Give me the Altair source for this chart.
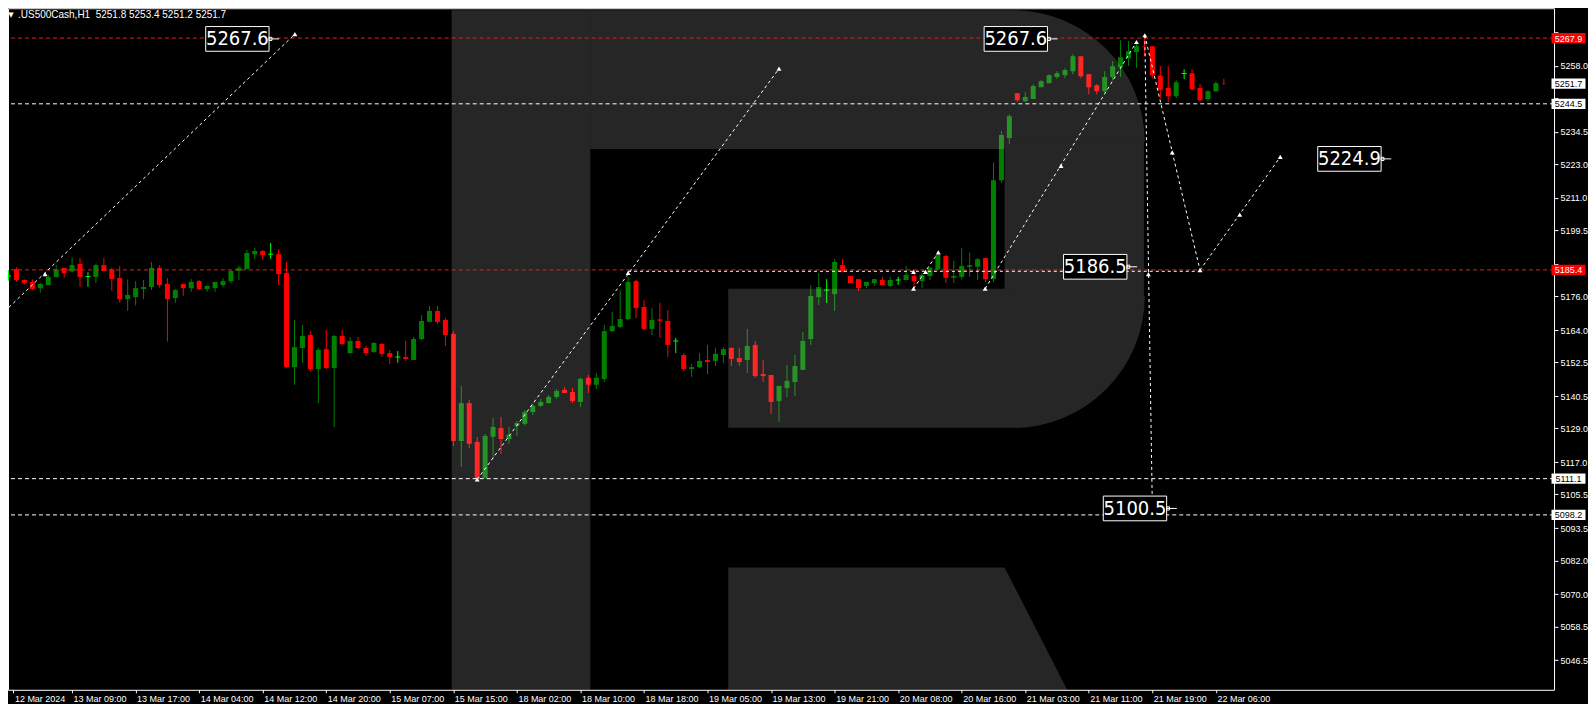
import math
import altair as alt
import pandas as pd

# ---------------- candle data (H1 bars, index 0 = 12 Mar 2024) ----------------
opens = [5183.2, 5185.6, 5181.8, 5181.1, 5178.9, 5180.0, 5182.9, 5186.1, 5184.8, 5187.5,
         5183.0, 5182.9, 5187.1, 5185.5, 5182.5, 5175.0, 5175.7, 5178.6, 5179.3, 5186.1,
         5180.4, 5175.4, 5180.4, 5178.9, 5181.4, 5178.6, 5178.9, 5180.0, 5181.4, 5185.0,
         5185.7, 5191.0, 5192.1, 5191.0, 5191.0, 5184.3, 5150.8, 5157.6, 5162.2, 5150.1,
         5157.2, 5150.5, 5161.9, 5155.8, 5160.1, 5157.6, 5156.2, 5159.0, 5155.8, 5154.4,
         5154.4, 5153.3, 5160.8, 5166.9, 5170.8, 5167.6, 5162.6, 5124.5, 5138.0, 5124.2,
         5111.3, 5126.0, 5129.1, 5125.2, 5129.9, 5130.6, 5134.8, 5137.0, 5138.0, 5140.2,
         5142.7, 5141.9, 5138.4, 5147.0, 5144.5, 5146.6, 5163.6, 5165.1, 5167.9, 5181.4,
         5172.2, 5164.4, 5167.8, 5167.2, 5160.1, 5155.1, 5150.1, 5150.8, 5153.3, 5153.0,
         5155.1, 5157.6, 5154.0, 5153.3, 5158.7, 5148.3, 5148.0, 5138.7, 5143.4, 5145.5,
         5149.8, 5160.8, 5175.7, 5178.2, 5176.8, 5187.1, 5183.2, 5182.1, 5179.7, 5180.7,
         5181.8, 5179.7, 5181.8, 5181.8, 5183.2, 5181.4, 5183.2, 5185.6, 5190.3, 5182.6,
         5182.9, 5186.5, 5186.5, 5189.6, 5182.1, 5217.3, 5232.3, 5248.3, 5245.4, 5246.2,
         5250.4, 5251.8, 5254.0, 5254.7, 5256.1, 5261.4, 5255.0, 5251.1, 5249.0, 5254.0,
         5257.5, 5260.7, 5262.9, 5265.2, 5265.0, 5254.6, 5250.1, 5247.2, 5255.3, 5255.4,
         5250.1, 5246.2, 5249.0, 5251.8]
highs = [5185.3, 5186.3, 5182.0, 5182.0, 5180.8, 5183.6, 5187.1, 5186.1, 5189.8, 5189.6,
         5184.6, 5187.5, 5189.6, 5186.1, 5186.8, 5182.0, 5181.4, 5181.8, 5188.2, 5187.1,
         5182.5, 5178.6, 5180.4, 5182.1, 5181.8, 5179.7, 5181.1, 5182.5, 5185.3, 5186.8,
         5192.5, 5193.2, 5192.5, 5195.0, 5192.8, 5188.2, 5167.6, 5165.8, 5163.6, 5157.6,
         5164.0, 5162.2, 5164.0, 5161.5, 5161.5, 5158.3, 5159.7, 5159.4, 5156.9, 5156.5,
         5160.1, 5161.5, 5169.3, 5172.6, 5172.6, 5168.3, 5163.6, 5144.1, 5139.1, 5126.0,
         5127.0, 5132.7, 5133.1, 5129.5, 5131.6, 5135.5, 5137.7, 5139.5, 5140.9, 5143.0,
         5143.7, 5143.4, 5147.0, 5148.0, 5148.7, 5165.8, 5170.4, 5178.2, 5182.9, 5181.8,
         5174.7, 5171.8, 5173.6, 5171.1, 5161.2, 5155.8, 5151.9, 5155.8, 5158.7, 5157.6,
         5157.9, 5157.9, 5157.6, 5164.4, 5160.1, 5153.3, 5148.0, 5144.1, 5151.6, 5155.1,
         5163.3, 5180.0, 5184.3, 5182.1, 5189.3, 5189.3, 5183.2, 5182.1, 5181.1, 5182.1,
         5182.9, 5182.9, 5182.9, 5186.8, 5185.3, 5184.3, 5186.4, 5191.9, 5190.7, 5188.6,
         5193.1, 5191.6, 5189.6, 5189.6, 5223.6, 5234.8, 5240.8, 5248.3, 5248.6, 5251.5,
         5252.9, 5255.0, 5256.1, 5257.2, 5262.2, 5261.4, 5255.0, 5251.5, 5256.1, 5259.7,
         5267.1, 5266.8, 5266.8, 5267.9, 5265.0, 5257.9, 5257.9, 5252.9, 5256.8, 5256.8,
         5251.5, 5249.4, 5252.5, 5253.4]
lows = [5181.5, 5181.2, 5180.2, 5178.2, 5177.3, 5180.0, 5182.6, 5182.6, 5184.5, 5179.4,
        5179.4, 5180.8, 5185.0, 5178.0, 5173.7, 5170.8, 5172.7, 5175.0, 5178.2, 5179.1,
        5159.9, 5173.6, 5176.2, 5177.6, 5178.2, 5177.6, 5177.6, 5179.4, 5180.7, 5181.8,
        5185.7, 5189.3, 5188.9, 5189.3, 5180.0, 5150.5, 5144.5, 5152.3, 5149.4, 5138.0,
        5150.1, 5129.5, 5158.7, 5155.5, 5157.2, 5154.8, 5155.8, 5154.4, 5151.9, 5152.3,
        5153.0, 5153.3, 5160.4, 5166.9, 5166.1, 5158.3, 5122.7, 5115.3, 5122.0, 5111.1,
        5111.2, 5118.1, 5119.9, 5123.5, 5126.3, 5129.9, 5133.8, 5136.6, 5137.7, 5139.5,
        5141.6, 5138.0, 5136.6, 5141.6, 5143.0, 5145.5, 5163.3, 5164.7, 5167.6, 5168.3,
        5164.0, 5162.2, 5161.2, 5154.4, 5155.8, 5149.4, 5147.3, 5150.5, 5148.3, 5151.2,
        5152.3, 5151.2, 5151.2, 5148.7, 5147.0, 5145.5, 5134.1, 5131.3, 5140.2, 5140.5,
        5149.8, 5158.7, 5172.9, 5173.6, 5170.8, 5184.6, 5180.7, 5177.9, 5178.9, 5179.7,
        5180.0, 5179.3, 5180.0, 5181.8, 5179.3, 5178.9, 5181.8, 5185.3, 5180.8, 5180.8,
        5182.0, 5182.9, 5181.8, 5181.0, 5181.0, 5216.4, 5230.2, 5245.1, 5245.1, 5246.2,
        5250.4, 5251.8, 5253.3, 5253.6, 5255.0, 5253.6, 5247.9, 5247.9, 5248.3, 5252.9,
        5254.0, 5257.9, 5257.2, 5261.4, 5253.6, 5246.3, 5245.1, 5246.5, 5253.3, 5249.2,
        5245.1, 5245.4, 5248.6, 5251.2]
closes = [5183.2, 5181.8, 5180.8, 5178.6, 5180.4, 5182.9, 5185.6, 5184.3, 5187.1, 5182.9,
          5183.0, 5187.1, 5185.0, 5182.1, 5175.0, 5176.5, 5178.9, 5179.3, 5186.1, 5180.0,
          5175.0, 5178.2, 5178.9, 5181.1, 5178.6, 5179.7, 5181.1, 5181.4, 5185.0, 5186.1,
          5191.4, 5192.1, 5190.7, 5191.0, 5183.9, 5150.8, 5157.9, 5161.9, 5150.1, 5156.9,
          5150.5, 5161.9, 5159.0, 5160.1, 5157.6, 5155.8, 5159.4, 5155.5, 5154.4, 5154.4,
          5153.7, 5160.8, 5167.2, 5170.8, 5166.9, 5162.2, 5124.5, 5138.0, 5123.5, 5111.3,
          5126.3, 5129.5, 5125.2, 5126.7, 5130.9, 5134.8, 5137.0, 5138.4, 5140.2, 5142.3,
          5141.6, 5138.7, 5146.6, 5144.5, 5147.0, 5163.6, 5165.4, 5167.9, 5181.1, 5171.8,
          5164.4, 5167.6, 5167.3, 5158.7, 5160.1, 5150.1, 5150.8, 5153.0, 5152.6, 5155.5,
          5157.2, 5153.7, 5152.6, 5158.3, 5147.6, 5147.6, 5138.4, 5144.1, 5145.9, 5151.2,
          5160.1, 5176.1, 5179.3, 5178.2, 5188.2, 5184.6, 5180.7, 5178.9, 5181.1, 5182.1,
          5180.0, 5181.8, 5181.8, 5183.6, 5181.4, 5183.6, 5186.1, 5190.7, 5182.6, 5183.2,
          5186.8, 5187.1, 5189.2, 5182.1, 5217.3, 5233.4, 5240.1, 5245.8, 5246.9, 5250.8,
          5252.5, 5254.7, 5255.4, 5256.5, 5261.4, 5254.3, 5250.4, 5249.0, 5254.0, 5257.9,
          5261.1, 5263.2, 5265.0, 5265.0, 5254.6, 5249.4, 5247.2, 5252.2, 5255.3, 5249.7,
          5245.8, 5249.0, 5251.8, 5251.7]

time_labels = ["12 Mar 2024", "13 Mar 09:00", "13 Mar 17:00", "14 Mar 04:00", "14 Mar 12:00",
               "14 Mar 20:00", "15 Mar 07:00", "15 Mar 15:00", "18 Mar 02:00", "18 Mar 10:00",
               "18 Mar 18:00", "19 Mar 05:00", "19 Mar 13:00", "19 Mar 21:00", "20 Mar 08:00",
               "20 Mar 16:00", "21 Mar 03:00", "21 Mar 11:00", "21 Mar 19:00", "22 Mar 06:00"]
bars_per_label = 8

price_ticks = [5046.5, 5058.5, 5070.0, 5082.0, 5093.5, 5105.5, 5117.0, 5129.0, 5140.5,
               5152.5, 5164.0, 5176.0, 5187.5, 5199.5, 5211.0, 5223.0, 5234.5, 5246.5,
               5258.0, 5270.0]
# scale labels covered by the price tags
covered_ticks = [5187.5, 5246.5, 5270.0]

title_text = ".US500Cash,H1\u00a0 5251.8 5253.4 5251.2 5251.7"

# horizontal levels
level_prices = [5267.9, 5244.5, 5185.4, 5111.1, 5098.2]
level_kinds = ["red", "white", "red", "white", "white"]

# price tags on the right scale
tag_prices = [5267.9, 5251.7, 5244.5, 5185.4, 5111.1, 5098.2]
tag_kinds = ["red", "white", "white", "red", "white", "white"]

# forecast segments (bar, price) -> (bar, price)
seg_b1 = [-0.5, 59.0, 78.0, 113.93, 122.95, 143.05, 150.0, 143.05]
seg_p1 = [5170.6, 5110.8, 5184.9, 5178.7, 5178.7, 5268.9, 5185.3, 5268.9]
seg_b2 = [36.05, 97.0, 150.0, 117.05, 142.0, 150.0, 160.1, 144.0]
seg_p2 = [5269.3, 5257.0, 5184.9, 5191.6, 5266.5, 5185.3, 5225.6, 5100.5]

# small arrow markers on the forecast
marker_b = [4.6, 36.05, 59.0, 78.0, 97.0, 113.93, 113.93, 115.45, 117.05, 122.95,
            132.5, 142.0, 143.05, 143.5, 146.5, 150.0, 155.0, 160.1, 144.0]
marker_p = [5183.9, 5269.3, 5110.8, 5184.3, 5257.0, 5184.7, 5178.7, 5184.7, 5191.6, 5178.7,
            5222.4, 5266.5, 5268.9, 5183.9, 5227.2, 5185.3, 5205.1, 5225.6, 5100.5]

# target labels
target_b = [28.81, 126.81, 136.81, 168.81, 141.81]
target_p = [5267.6, 5267.6, 5186.5, 5224.9, 5100.5]

# ---------------- scales / axes ----------------
x_dom = [0.5625, 193.9375]
y_dom = [5035.96, 5278.52]
xs = alt.Scale(domain=x_dom, nice=False, zero=False)
ys = alt.Scale(domain=y_dom, nice=False, zero=False)
W, H = 1547, 682
FONT = "Liberation Sans"
BIGFONT = "DejaVu Sans Condensed, Liberation Sans Narrow, sans-serif"

tick_vals = [max(k * bars_per_label, x_dom[0] + 0.05) for k in range(len(time_labels))]
lab_arr = "[" + ",".join("'" + t + "'" for t in time_labels) + "]"
cov_arr = "[" + ",".join(str(v) for v in covered_ticks) + "]"

x_axis = alt.Axis(values=tick_vals, labelExpr=f"{lab_arr}[round(datum.value / {bars_per_label})]",
                  orient="bottom", domain=False, grid=False, tickSize=3, tickColor="white",
                  labelColor="white", labelFont=FONT, labelFontSize=9, labelAlign="left",
                  labelBaseline="top", labelPadding=2, labelFlush=False, labelOverlap=False,
                  labelBound=False, labelOffset=1, title=None)
y_axis = alt.Axis(values=price_ticks,
                  labelExpr=f"indexof({cov_arr}, datum.value) >= 0 ? '' : format(datum.value, '.1f')",
                  orient="right", domain=False, grid=False,
                  tickSize=4, tickColor="white", labelColor="white", labelFont=FONT,
                  labelFontSize=9, labelPadding=2, labelFlush=False, labelOverlap=False,
                  labelBound=False, title=None)


def X(field):
    return alt.X(field, scale=xs, axis=x_axis)


def Y(field):
    return alt.Y(field, scale=ys, axis=y_axis)


n = len(opens)
cdf = pd.DataFrame({"bar": list(range(n)), "open": opens, "high": highs,
                    "low": lows, "close": closes})
cdf["dir"] = ["up" if c > o else ("down" if c < o else "doji") for o, c in zip(opens, closes)]
dcol = alt.Color("dir:N", scale=alt.Scale(domain=["up", "down", "doji"],
                                          range=["#008000", "#ff0000", "#00ff00"]), legend=None)

wick = alt.Chart(cdf).mark_rule(strokeWidth=1, clip=True).encode(
    x=X("bar:Q"), y=Y("low:Q"), y2="high:Q", color=dcol)
body = alt.Chart(cdf).transform_filter("datum.dir != 'doji'").mark_bar(size=5, clip=True).encode(
    x=X("bar:Q"), y=Y("open:Q"), y2="close:Q", color=dcol)
doji = alt.Chart(cdf).transform_filter("datum.dir == 'doji'").mark_tick(
    orient="horizontal", size=5, thickness=1, clip=True, opacity=1).encode(
    x=X("bar:Q"), y=Y("open:Q"), color=dcol)

# ---------------- watermark (translucent logo) ----------------
wm_rects = pd.DataFrame({
    "b1": [55.79, 73.25, 125.4, 90.6, 126.44],
    "b2": [73.25, 126.44, 126.44, 126.44, 142.94],
    "p1": [5030.0, 5228.41, 5178.72, 5129.18, 5176.09],
    "p2": [5277.81, 5277.81, 5228.41, 5178.72, 5230.86],
})
WM = dict(color="white", opacity=0.15)
wm1 = alt.Chart(wm_rects).mark_rect(clip=True, **WM).encode(
    x=X("b1:Q"), x2="b2:Q", y=Y("p1:Q"), y2="p2:Q")
wm_arc_top = alt.Chart(pd.DataFrame({"b": [126.44], "p": [5230.86]})).mark_arc(
    radius=132, theta=0, theta2=math.pi / 2, **WM).encode(x=X("b:Q"), y=Y("p:Q"))
wm_arc_bot = alt.Chart(pd.DataFrame({"b": [126.44], "p": [5176.09]})).mark_arc(
    radius=132, theta=math.pi / 2, theta2=math.pi, **WM).encode(x=X("b:Q"), y=Y("p:Q"))
wm_leg = alt.Chart(pd.DataFrame({"b": [90.6, 125.4, 133.54], "p": [5079.5, 5079.5, 5034.5],
                                 "base": [5030.0, 5030.0, 5030.0]})).mark_area(clip=True, **WM).encode(
    x=X("b:Q"), y=Y("p:Q"), y2="base:Q")

# ---------------- levels ----------------
lvl = pd.DataFrame({"p": level_prices, "k": level_kinds})
kcol = alt.Color("k:N", scale=alt.Scale(domain=["red", "white"], range=["#dd2020", "#ffffff"]),
                 legend=None)
levels = alt.Chart(lvl).mark_rule(strokeWidth=1, strokeDash=[4, 3], clip=True).encode(
    y=Y("p:Q"), color=kcol)

# ---------------- forecast lines ----------------
seg = pd.DataFrame({"b1": seg_b1, "p1": seg_p1, "b2": seg_b2, "p2": seg_p2})
segs = alt.Chart(seg).mark_rule(color="white", strokeWidth=1, strokeDash=[3, 3], clip=True).encode(
    x=X("b1:Q"), x2="b2:Q", y=Y("p1:Q"), y2="p2:Q")
mk = pd.DataFrame({"b": marker_b, "p": marker_p})
markers = alt.Chart(mk).mark_point(shape="triangle-up", size=24, filled=True, color="white",
                                   opacity=1, clip=True).encode(x=X("b:Q"), y=Y("p:Q"))

# ---------------- target boxes ----------------
tg = pd.DataFrame({"b": target_b, "p": target_p})
tg["txt"] = [f"{v:.1f}" for v in target_p]
box_path = "M-1,-0.39H1V0.39H-1Z M1,0H1.32 M1,-0.05H1.09V0.05H1Z"
tboxes = alt.Chart(tg).mark_point(shape=box_path, size=4020, fill="black", stroke="white",
                                  strokeWidth=1, opacity=1, fillOpacity=1, filled=False).encode(
    x=X("b:Q"), y=Y("p:Q"))
ttext = alt.Chart(tg).mark_text(font=BIGFONT, fontSize=20, color="white", align="center",
                                baseline="middle", dy=0.5).encode(
    x=X("b:Q"), y=Y("p:Q"), text="txt:N")

# ---------------- price tags on the scale ----------------
tag_b = x_dom[1] + 2.45
tdf = pd.DataFrame({"p": tag_prices, "k": tag_kinds})
tdf["b"] = tag_b
tdf["txt"] = [f"{v:.1f}" for v in tag_prices]
tag_boxes = alt.Chart(tdf).mark_point(shape="M-1,-0.3H1V0.3H-1Z", size=1156, filled=True,
                                      opacity=1, strokeWidth=0, clip=False).encode(
    x=X("b:Q"), y=Y("p:Q"),
    color=alt.Color("k:N", scale=alt.Scale(domain=["red", "white"], range=["#ff0000", "#ffffff"]),
                    legend=None))
tag_text = alt.Chart(tdf).mark_text(font=FONT, fontSize=9, align="center", baseline="middle",
                                    dy=0.5, clip=False).encode(
    x=X("b:Q"), y=Y("p:Q"), text="txt:N",
    color=alt.Color("k:N", scale=alt.Scale(domain=["red", "white"], range=["#ffffff", "#000000"]),
                    legend=None))

# ---------------- header ----------------
head = alt.Chart(pd.DataFrame({"t": [title_text]})).mark_text(
    font=FONT, fontSize=10, color="white", align="left", baseline="top").encode(
    x=alt.value(10), y=alt.value(1.5), text="t:N")
icon = alt.Chart(pd.DataFrame({"t": ["\u25bc"]})).mark_text(
    font="DejaVu Sans", fontSize=7, color="white", align="center", baseline="top").encode(
    x=alt.value(3), y=alt.value(2.5), text="t:N")

chart = alt.layer(
    wick, body, doji, wm1, wm_arc_top, wm_arc_bot, wm_leg, levels, segs, markers,
    tboxes, ttext, tag_boxes, tag_text, head, icon
).resolve_scale(color="independent").properties(
    width=W, height=H, padding=0, background="#000000"
).configure_view(stroke="white", strokeWidth=1, fill="#000000")

chart.save("out.html", embed_options={"renderer": "svg", "actions": False})
